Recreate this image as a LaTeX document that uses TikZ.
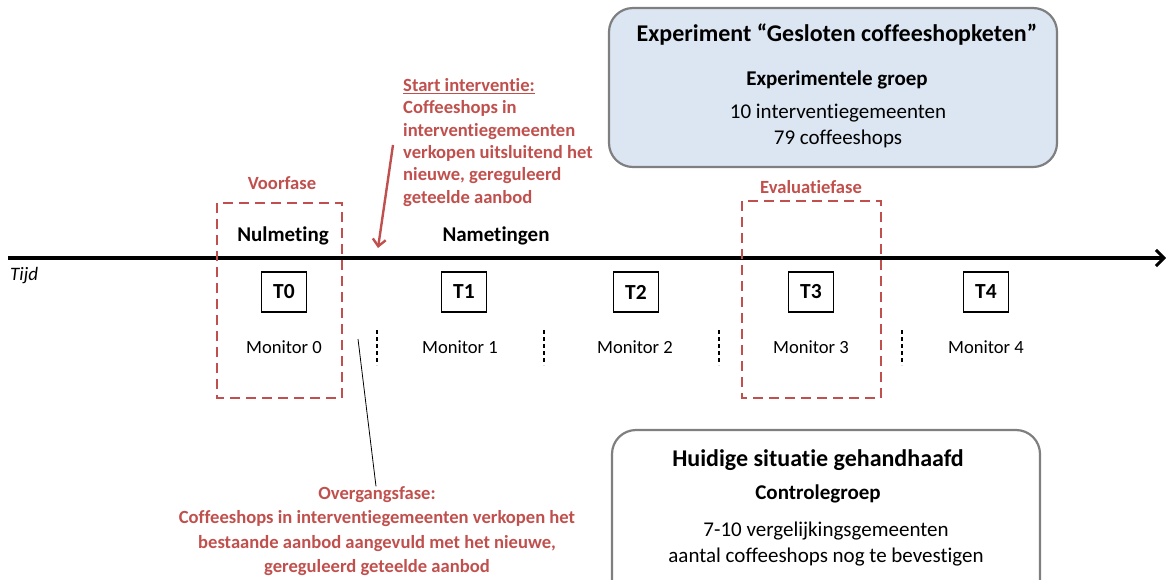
\documentclass[tikz,border=0pt]{standalone}
\usepackage{fontspec}
\setmainfont{Carlito}[RawFeature={-liga;-clig;-calt;-dlig;-rlig}]
\usetikzlibrary{arrows.meta}

\definecolor{phasered}{HTML}{C0504D}
\definecolor{groupblue}{HTML}{DCE6F2}
\definecolor{boxgray}{HTML}{7F7F7F}

\tikzset{
  tlabel/.style={draw,line width=1.2pt,inner sep=0pt,minimum width=45pt,
    minimum height=40pt,font=\fontsize{21.5}{25}\selectfont\bfseries},
  monitor/.style={font=\fontsize{18.6}{22}\selectfont},
  heading/.style={font=\fontsize{21}{25}\selectfont\bfseries},
  redtext/.style={text=phasered,inner sep=0pt,
    font=\fontsize{18.6}{22.4}\selectfont\bfseries},
  phasebox/.style={draw=phasered,line width=2.8pt,dash pattern=on 10pt off 6pt},
  groupbox/.style={draw=boxgray,line width=2.2pt,rounded corners=24pt},
  boxtitle/.style={font=\fontsize{24}{28}\selectfont\bfseries},
  boxtext/.style={align=center,font=\fontsize{21}{26}\selectfont}
}

\begin{document}
\begin{tikzpicture}[x=1pt,y=-1pt]
  \useasboundingbox (0,0) rectangle (1166,579);
  \clip (0,0) rectangle (1166,579);

  % group boxes
  \draw[groupbox,fill=groupblue] (609,8) rectangle (1057,167);
  \node[boxtitle] (exptitle) at (837,35) {Experiment “Gesloten coffeeshopketen”};
  \node[heading] (expgroup) at (837,80) {Experimentele groep};
  \node[boxtext] (expdata) at (838,126) {10 interventiegemeenten\\79 coffeeshops};

  \draw[groupbox,fill=white] (612,430) rectangle (1040,610);
  \node[boxtitle] (ctrltitle) at (818,460) {Huidige situatie gehandhaafd};
  \node[heading] (ctrlgroup) at (818,494) {Controlegroep};
  \node[boxtext] (ctrldata) at (826,544) {7-10 vergelijkingsgemeenten\\aantal coffeeshops nog te bevestigen};

  % time axis
  \coordinate (tstart) at (8,258);
  \coordinate (tend) at (1166,258);
  \draw[line width=3.6pt,-{Straight Barb[length=8pt,width=16pt,line width=3pt]}]
    (tstart) -- (tend);
  \node[anchor=west,inner sep=0pt,font=\fontsize{19}{22}\selectfont\itshape]
    (tijd) at (10,276) {Tijd};

  \node[heading] (nulmeting) at (283,236) {Nulmeting};
  \node[heading] (nametingen) at (496,236) {Nametingen};

  % measurements
  \foreach \i/\x/\mx in {0/284/284,1/464/460,2/636/635,3/811/811,4/986/986}{
    \node[tlabel] (t\i) at (\x,292) {T\i};
    \node[monitor] (m\i) at (\mx,347) {Monitor \i};
  }
  \foreach \x in {377,544,719,902}
    \draw[line width=1.6pt,dash pattern=on 4pt off 3pt] (\x,330) -- (\x,365);

  % phases
  \draw[phasebox] (217,203) rectangle (342,398);
  \node[redtext] (voorfase) at (282,183) {Voorfase};
  \draw[phasebox] (742,201) rectangle (881,398);
  \node[redtext] (evaluatie) at (811,187) {Evaluatiefase};

  % start of intervention
  \node[redtext,anchor=north west,align=left] (start) at (403,78)
    {\underline{Start interventie:}\\Coffeeshops in\\interventiegemeenten\\
     verkopen uitsluitend het\\nieuwe, gereguleerd\\geteelde aanbod};
  \coordinate (starttail) at (393,145);
  \coordinate (starthead) at (378,248);
  \draw[phasered,line width=2.4pt,-{Straight Barb[length=7pt,width=13pt]}]
    (starttail) -- (starthead);

  % transition phase
  \node[redtext,align=center,font=\fontsize{18.6}{24.3}\selectfont\bfseries]
    (overgang) at (377,531)
    {Overgangsfase:\\Coffeeshops in interventiegemeenten verkopen het\\
     bestaande aanbod aangevuld met het nieuwe,\\gereguleerd geteelde aanbod};
  \coordinate (overganglink) at (358,339);
  \draw[line width=0.8pt] (overganglink) -- (overgang.north -| 376,0);
\end{tikzpicture}
\end{document}
